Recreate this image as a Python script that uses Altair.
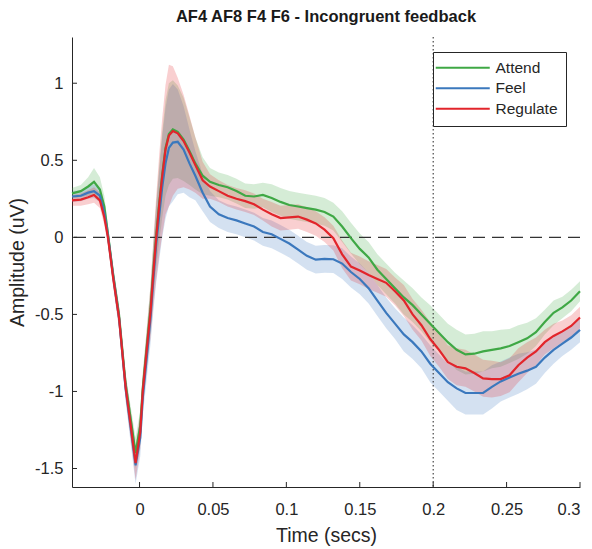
import altair as alt
import pandas as pd

# Sample times (s) shared by every condition
times = [-0.046, -0.040, -0.035, -0.031, -0.027, -0.024, -0.0215, -0.018, -0.014, -0.0095,
         -0.006, -0.0027, 0.0005, 0.0022, 0.005, 0.0075, 0.0095, 0.0114, 0.0135, 0.0155,
         0.0177, 0.020, 0.0227, 0.026, 0.030, 0.034, 0.038, 0.043, 0.048,
         0.054, 0.060, 0.066, 0.072, 0.078, 0.084, 0.090, 0.096, 0.102, 0.108,
         0.114, 0.120, 0.126, 0.132, 0.138, 0.144, 0.150, 0.156, 0.162, 0.168,
         0.174, 0.180, 0.186, 0.192, 0.198, 0.204, 0.210, 0.216, 0.222, 0.228,
         0.234, 0.240, 0.246, 0.252, 0.258, 0.264, 0.270, 0.276, 0.282, 0.288,
         0.294, 0.300]

# Grand-average amplitude (uV) per condition
attend = [0.285, 0.30, 0.33, 0.36, 0.31, 0.2, 0.02, -0.24, -0.50, -0.95,
          -1.18, -1.40, -1.22, -0.98, -0.70, -0.46, -0.20, 0.02, 0.23, 0.41,
          0.58, 0.67, 0.70, 0.685, 0.635, 0.56, 0.48, 0.40, 0.36,
          0.34, 0.325, 0.30, 0.27, 0.265, 0.275, 0.255, 0.23, 0.21, 0.2,
          0.19, 0.18, 0.165, 0.135, 0.07, -0.005, -0.075, -0.13, -0.21, -0.27,
          -0.33, -0.39, -0.44, -0.50, -0.56, -0.62, -0.68, -0.73, -0.76, -0.755,
          -0.74, -0.73, -0.72, -0.705, -0.68, -0.655, -0.615, -0.55, -0.49, -0.455,
          -0.41, -0.35]
feel = [0.265, 0.27, 0.29, 0.30, 0.27, 0.16, 0.01, -0.25, -0.52, -0.98,
        -1.24, -1.48, -1.30, -1.04, -0.77, -0.52, -0.26, -0.04, 0.15, 0.33,
        0.48, 0.58, 0.615, 0.62, 0.57, 0.48, 0.40, 0.29, 0.2,
        0.15, 0.125, 0.11, 0.09, 0.07, 0.035, 0.02, -0.01, -0.04, -0.08,
        -0.12, -0.145, -0.14, -0.142, -0.17, -0.225, -0.27, -0.33, -0.41, -0.49,
        -0.56, -0.63, -0.68, -0.74, -0.82, -0.88, -0.94, -0.98, -1.01, -1.01,
        -1.01, -0.97, -0.935, -0.91, -0.885, -0.865, -0.84, -0.78, -0.73, -0.69,
        -0.65, -0.60]
regulate = [0.24, 0.245, 0.26, 0.275, 0.24, 0.13, 0.0, -0.26, -0.52, -0.97,
            -1.22, -1.465, -1.26, -1.0, -0.72, -0.48, -0.22, 0.0, 0.22, 0.40,
            0.57, 0.66, 0.69, 0.675, 0.625, 0.55, 0.47, 0.37, 0.33,
            0.30, 0.27, 0.25, 0.235, 0.215, 0.18, 0.15, 0.125, 0.13, 0.135,
            0.115, 0.09, 0.05, -0.005, -0.11, -0.19, -0.215, -0.245, -0.27, -0.295,
            -0.35, -0.41, -0.50, -0.57, -0.66, -0.73, -0.81, -0.84, -0.85, -0.88,
            -0.915, -0.92, -0.92, -0.895, -0.83, -0.78, -0.74, -0.68, -0.64, -0.61,
            -0.575, -0.52]

# Standard error of the mean per condition
attend_se = [0.035, 0.04, 0.06, 0.09, 0.08, 0.07, 0.06, 0.06, 0.06, 0.07,
             0.08, 0.10, 0.10, 0.10, 0.12, 0.15, 0.18, 0.21, 0.25, 0.28,
             0.31, 0.33, 0.32, 0.30, 0.27, 0.22, 0.17, 0.12, 0.09,
             0.08, 0.08, 0.08, 0.08, 0.08, 0.08, 0.09, 0.09, 0.09, 0.09,
             0.09, 0.09, 0.09, 0.09, 0.10, 0.10, 0.10, 0.10, 0.10, 0.10,
             0.10, 0.11, 0.11, 0.11, 0.12, 0.12, 0.12, 0.13, 0.13, 0.13,
             0.13, 0.12, 0.12, 0.11, 0.11, 0.10, 0.09, 0.08, 0.08, 0.07,
             0.07, 0.065]
feel_se = [0.035, 0.035, 0.04, 0.045, 0.045, 0.05, 0.06, 0.06, 0.07, 0.08,
           0.10, 0.12, 0.12, 0.12, 0.14, 0.17, 0.21, 0.25, 0.29, 0.33,
           0.36, 0.38, 0.38, 0.34, 0.28, 0.22, 0.16, 0.12, 0.10,
           0.09, 0.09, 0.09, 0.09, 0.09, 0.09, 0.09, 0.09, 0.09, 0.09,
           0.09, 0.09, 0.09, 0.09, 0.10, 0.10, 0.10, 0.10, 0.10, 0.10,
           0.10, 0.11, 0.11, 0.11, 0.12, 0.12, 0.12, 0.14, 0.14, 0.14,
           0.14, 0.14, 0.13, 0.13, 0.13, 0.12, 0.11, 0.10, 0.09, 0.08,
           0.08, 0.08]
regulate_se = [0.035, 0.04, 0.045, 0.05, 0.05, 0.05, 0.06, 0.06, 0.07, 0.08,
               0.09, 0.11, 0.11, 0.11, 0.13, 0.17, 0.22, 0.27, 0.33, 0.38,
               0.42, 0.46, 0.42, 0.36, 0.30, 0.24, 0.18, 0.12, 0.08,
               0.07, 0.07, 0.07, 0.07, 0.07, 0.07, 0.08, 0.08, 0.08, 0.08,
               0.08, 0.08, 0.08, 0.08, 0.09, 0.09, 0.09, 0.09, 0.09, 0.09,
               0.09, 0.10, 0.10, 0.10, 0.11, 0.11, 0.11, 0.12, 0.12, 0.12,
               0.12, 0.12, 0.11, 0.11, 0.11, 0.10, 0.09, 0.08, 0.08, 0.07,
               0.07, 0.07]

conditions = ["Attend", "Feel", "Regulate"]
colors = ["#3fa845", "#3b78bd", "#e2252b"]

x_ticks = [0, 0.05, 0.1, 0.15, 0.2, 0.25, 0.3]
y_ticks = [-1.5, -1, -0.5, 0, 0.5, 1]
x_domain = [-0.046, 0.3]
y_domain = [-1.62, 1.30]
stimulus_end = [0.2]

FONT = "Liberation Sans"
INK = "#262626"
W, H = 508, 450

rows = []
for name, mean, se in zip(conditions, [attend, feel, regulate],
                          [attend_se, feel_se, regulate_se]):
    for t, m, s in zip(times, mean, se):
        rows.append({"time": t, "amp": m, "lo": m - s, "hi": m + s,
                     "cond": name, "band": name})
df = pd.DataFrame(rows)

xscale = alt.Scale(domain=x_domain, nice=False, zero=False)
yscale = alt.Scale(domain=y_domain, nice=False, zero=False)
minus_fix = "replace(datum.label, '\u2212', '-')"

x_enc = alt.X("time:Q", scale=xscale,
              axis=alt.Axis(values=x_ticks, format="~g", labelExpr=minus_fix,
                            title="Time (secs)", ticks=False, grid=False,
                            labelPadding=14, titlePadding=9))

# shaded standard-error bands
bands = alt.Chart(df).mark_area(opacity=0.22).encode(
    x=x_enc,
    y=alt.Y("lo:Q", scale=yscale,
            axis=alt.Axis(values=y_ticks, format="~g", labelExpr=minus_fix,
                          title="Amplitude (uV)", ticks=False, grid=False,
                          labelPadding=9, titlePadding=7)),
    y2="hi:Q",
    fill=alt.Fill("band:N", scale=alt.Scale(domain=conditions, range=colors), legend=None),
)

lines = alt.Chart(df).mark_line(strokeWidth=2.2).encode(
    x=alt.X("time:Q", scale=xscale),
    y=alt.Y("amp:Q", scale=yscale),
    color=alt.Color("cond:N", scale=alt.Scale(domain=conditions, range=colors),
                    legend=alt.Legend(title=None, orient="none", legendX=361, legendY=15,
                                      fillColor="white", strokeColor=INK, padding=8,
                                      symbolType="M-2.6,0H8.2", symbolSize=100,
                                      symbolStrokeWidth=2, labelOffset=39,
                                      labelFont=FONT, labelFontSize=15.5,
                                      labelColor=INK, rowPadding=3.5)),
)

zero_line = alt.Chart(pd.DataFrame({"y": [0]})).mark_rule(
    color="#333333", strokeWidth=1.4, strokeDash=[12, 7]
).encode(y=alt.Y("y:Q", scale=yscale))

marker_line = alt.Chart(pd.DataFrame({"x": stimulus_end})).mark_rule(
    color="#222222", strokeWidth=1, strokeDash=[1.5, 2.5]
).encode(x=alt.X("x:Q", scale=xscale))

# inward-pointing tick marks
x_tick_marks = alt.Chart(pd.DataFrame({"t": x_ticks})).mark_rule(color=INK, strokeWidth=1).encode(
    x=alt.X("t:Q", scale=xscale), y=alt.value(H), y2=alt.value(H - 5))
y_tick_marks = alt.Chart(pd.DataFrame({"t": y_ticks})).mark_rule(color=INK, strokeWidth=1).encode(
    y=alt.Y("t:Q", scale=yscale), x=alt.value(0), x2=alt.value(5))

chart = alt.layer(
    bands, zero_line, marker_line, lines, x_tick_marks, y_tick_marks
).resolve_legend(color="independent", fill="independent").properties(
    width=W, height=H,
    title=alt.TitleParams("AF4 AF8 F4 F6 - Incongruent feedback", font=FONT, fontSize=16.5,
                          fontWeight="bold", color="#1a1a1a", anchor="middle", offset=11),
    autosize=alt.AutoSizeParams(type="none"),
    padding={"left": 72, "top": 37, "right": 12, "bottom": 62},
).configure_view(stroke=None).configure_axis(
    domainColor=INK, domainWidth=1, labelFont=FONT, labelFontSize=16.5, labelColor=INK,
    titleFont=FONT, titleFontSize=19.5, titleFontWeight="normal", titleColor=INK,
)

chart.save("out.html", embed_options={"renderer": "svg", "actions": False})
